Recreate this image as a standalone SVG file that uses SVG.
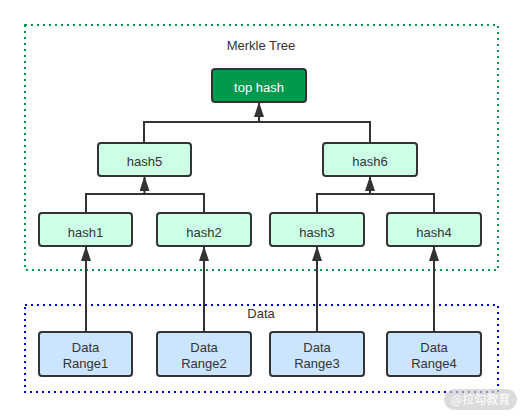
<svg xmlns="http://www.w3.org/2000/svg" width="525" height="417" viewBox="0 0 525 417">
<defs>
<marker id="arr" viewBox="0 0 15 10" refX="14" refY="5" markerWidth="7.5" markerHeight="5" orient="auto" markerUnits="strokeWidth">
<path d="M0,0 L15,5 L0,10 z" fill="#333333"/>
</marker>
<style>
.node rect{stroke:#333333;stroke-width:2}
.leaf rect{fill:#ccffe6}
.data rect{fill:#cce5ff}
text{font-family:"Liberation Sans",Arial,sans-serif;font-size:13px;fill:#333333;text-anchor:middle}
.conn{fill:none;stroke:#333333;stroke-width:2}
</style>
</defs>
<rect width="525" height="417" fill="#ffffff"/>
<g id="merkle-group">
<rect x="25" y="25" width="473" height="245" fill="none" stroke="#00994d" stroke-width="2" stroke-dasharray="2,4"/>
<text x="261" y="50">Merkle Tree</text>
</g>
<g id="data-group">
<rect x="25" y="305" width="473" height="87" fill="none" stroke="#0000cc" stroke-width="2" stroke-dasharray="2,4"/>
<text x="261" y="318">Data</text>
</g>
<g id="connectors">
<path class="conn" d="M144,143 V122 H370 V143"/>
<path class="conn" d="M259,122 V103" marker-end="url(#arr)"/>
<path class="conn" d="M86,213 V194 H204 V213"/>
<path class="conn" d="M144.5,194 V177" marker-end="url(#arr)"/>
<path class="conn" d="M317,213 V194 H434 V213"/>
<path class="conn" d="M370,194 V177" marker-end="url(#arr)"/>
<path class="conn" d="M86,332 V247" marker-end="url(#arr)"/>
<path class="conn" d="M204,332 V247" marker-end="url(#arr)"/>
<path class="conn" d="M317,332 V247" marker-end="url(#arr)"/>
<path class="conn" d="M434,332 V247" marker-end="url(#arr)"/>
</g>
<g id="top-hash" class="node">
<rect x="212" y="69" width="94" height="33" rx="3" fill="#00994d"/>
<text x="259" y="92" style="fill:#ffffff">top hash</text>
</g>
<g id="hash5" class="node leaf">
<rect x="98" y="143" width="93" height="33" rx="3"/>
<text x="144.5" y="166">hash5</text>
</g>
<g id="hash6" class="node leaf">
<rect x="323" y="143" width="94" height="33" rx="3"/>
<text x="370" y="166">hash6</text>
</g>
<g id="hash1" class="node leaf">
<rect x="39" y="213" width="93" height="33" rx="3"/>
<text x="85.5" y="236.5">hash1</text>
</g>
<g id="hash2" class="node leaf">
<rect x="157" y="213" width="94" height="33" rx="3"/>
<text x="204" y="236.5">hash2</text>
</g>
<g id="hash3" class="node leaf">
<rect x="270" y="213" width="94" height="33" rx="3"/>
<text x="317" y="236.5">hash3</text>
</g>
<g id="hash4" class="node leaf">
<rect x="387" y="213" width="94" height="33" rx="3"/>
<text x="434" y="236.5">hash4</text>
</g>
<g id="data1" class="node data">
<rect x="39" y="332" width="93" height="44" rx="3"/>
<text x="85.5" y="351.5">Data</text>
<text x="85.5" y="367.5">Range1</text>
</g>
<g id="data2" class="node data">
<rect x="157" y="332" width="94" height="44" rx="3"/>
<text x="204" y="351.5">Data</text>
<text x="204" y="367.5">Range2</text>
</g>
<g id="data3" class="node data">
<rect x="270" y="332" width="94" height="44" rx="3"/>
<text x="317" y="351.5">Data</text>
<text x="317" y="367.5">Range3</text>
</g>
<g id="data4" class="node data">
<rect x="387" y="332" width="94" height="44" rx="3"/>
<text x="434" y="351.5">Data</text>
<text x="434" y="367.5">Range4</text>
</g>
<g id="watermark">
<rect x="444" y="389" width="73" height="21" rx="10.5" fill="#cccccc" fill-opacity="0.7"/>
<text x="480.5" y="404" style="fill:#ffffff;font-family:'Noto Sans CJK SC',sans-serif;font-size:12px">@拉勾教育</text>
</g>
</svg>
